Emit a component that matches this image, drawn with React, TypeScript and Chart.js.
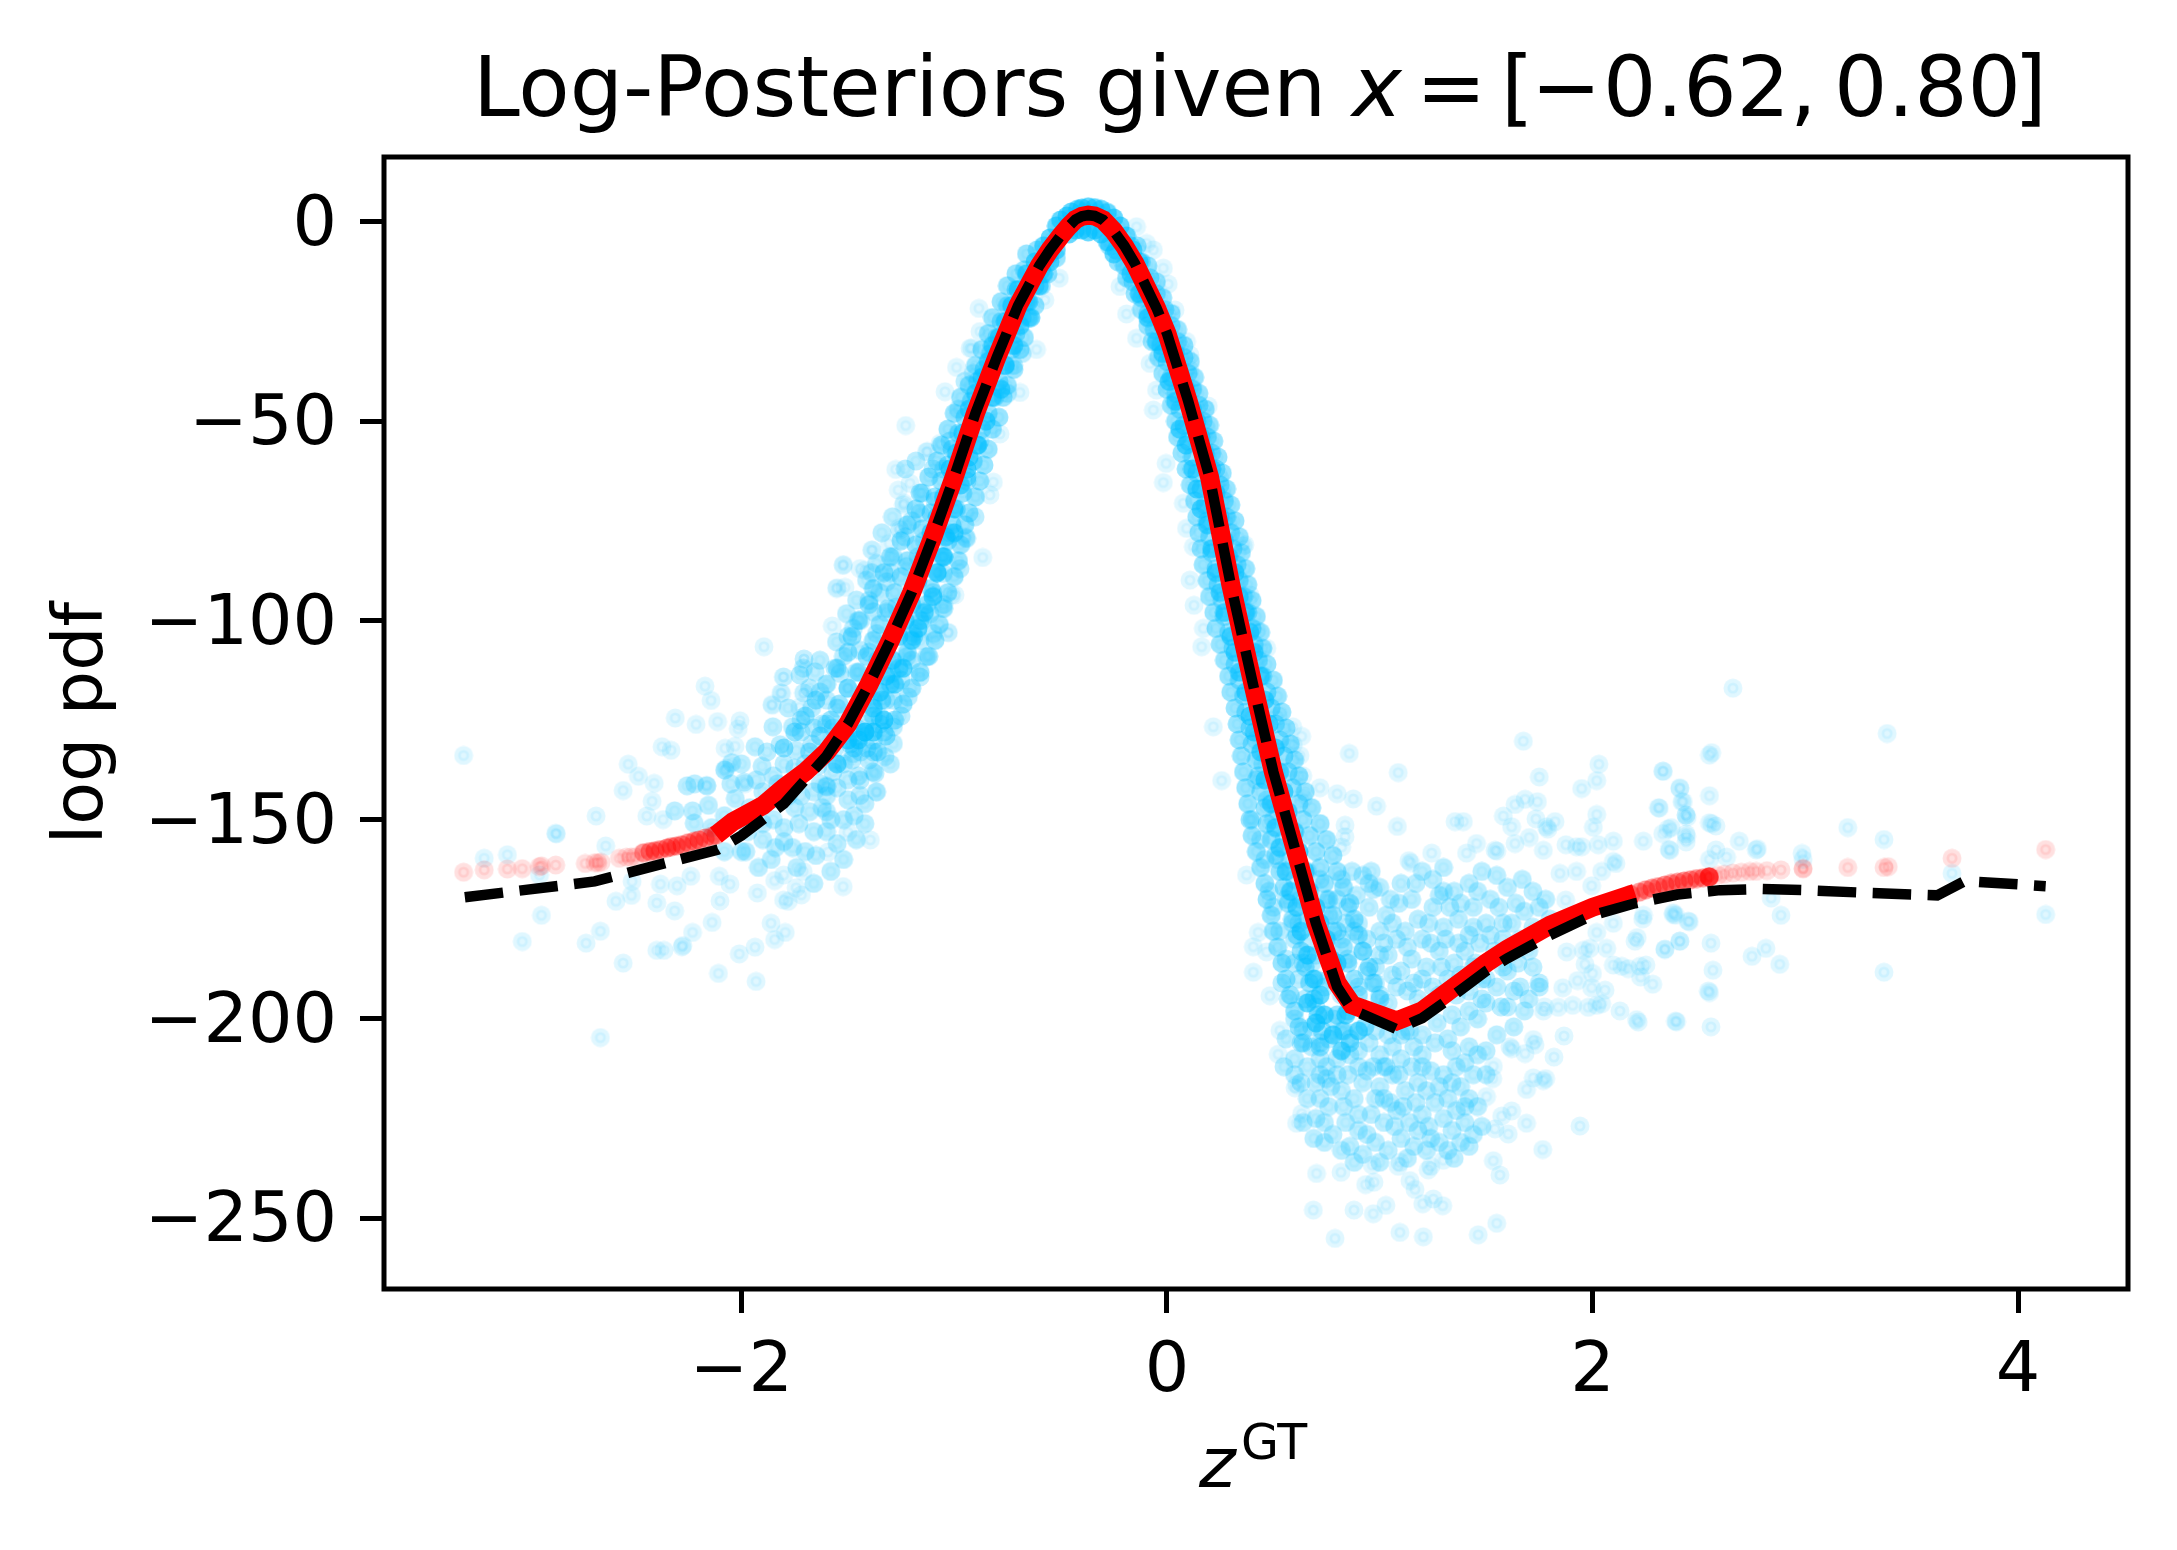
import React, { useEffect, useRef } from "react";
import { Chart, registerables } from "chart.js";

Chart.register(...registerables);

const xTicks = [-2, 0, 2, 4];
const yTicks = [-250, -200, -150, -100, -50, 0];

const meanCurve = [
  [-3.3,-169.5],[-2.69,-165.5],[-2.11,-157.5],[-2.0,-154],[-1.9,-150],[-1.8,-146],[-1.7,-140],[-1.6,-134],[-1.5,-126],[-1.4,-116],[-1.3,-105],[-1.2,-93],[-1.1,-79],[-1.0,-64],[-0.9,-48],[-0.8,-34],[-0.7,-21],[-0.6,-11],[-0.55,-7],[-0.5,-3.5],[-0.46,-1],[-0.43,0.6],[-0.4,1.4],[-0.37,1.7],[-0.34,1.5],[-0.3,0.5],[-0.25,-2.3],[-0.2,-6],[-0.15,-10.5],[-0.1,-16],[-0.05,-21.5],[0,-28],[0.1,-45],[0.2,-64],[0.3,-91],[0.4,-115],[0.5,-138],[0.6,-157],[0.7,-176],[0.8,-192],[0.87,-197.7],[1.08,-202.6],[1.2,-199.8],[1.3,-196],[1.4,-192],[1.5,-188],[1.6,-184.8],[1.8,-179],[2.0,-174],[2.2,-171],[2.4,-168.8],[2.6,-167.7],[2.8,-167.4],[3.0,-167.7],[3.3,-168.4],[3.62,-169],[3.75,-165.4],[4.13,-166.7],
];

const posteriorCurve = [
  [-2.12,-153.9],[-2.04,-150.5],[-1.9,-146.5],[-1.8,-142],[-1.7,-138],[-1.6,-133],[-1.5,-126],[-1.4,-116],[-1.3,-105],[-1.2,-93],[-1.1,-79],[-1.0,-64],[-0.9,-48],[-0.8,-34],[-0.7,-21],[-0.6,-11],[-0.55,-7],[-0.5,-3.5],[-0.46,-1],[-0.43,0.6],[-0.4,1.4],[-0.37,1.7],[-0.34,1.5],[-0.3,0.5],[-0.25,-2.3],[-0.2,-6],[-0.15,-10.5],[-0.1,-16],[-0.05,-21.5],[0,-28],[0.1,-45],[0.2,-64],[0.3,-91],[0.4,-115],[0.5,-138],[0.6,-157],[0.7,-176],[0.8,-191],[0.87,-196.5],[1.08,-200.5],[1.2,-198],[1.3,-194],[1.4,-190],[1.5,-186],[1.6,-182.5],[1.8,-176.5],[2.0,-172],[2.2,-168.5],
];

const posteriorTail = [
  [-3.306,-163.2],[-3.209,-162.6],[-3.1,-162.4],[-3.03,-162.3],[-2.95,-161.8],[-2.94,-161.6],[-2.873,-161.4],[-2.734,-161],[-2.69,-160.8],[-2.675,-160.8],[-2.66,-160.7],[-2.574,-159.7],[-2.541,-159.4],[-2.52,-159.4],[-2.499,-159.3],
  [3.37,-162],[3.39,-161.8],[3.2,-162],[3.69,-159.7],[4.13,-157.5],[2.99,-162.4],[2.99,-162.2],[2.886,-162.6],[2.82,-162.8],[2.77,-163],[2.74,-163],[2.7,-163.2],[2.66,-163.4],[2.62,-163.7],[2.59,-164],
];

const posteriorTailDense = [
  [-2.46,-158.3],[-2.43,-158],[-2.406,-157.8],[-2.38,-157.5],[-2.35,-157.1],[-2.33,-156.8],[-2.306,-156.6],[-2.28,-156.3],[-2.25,-155.8],[-2.222,-155.4],[-2.2,-155.1],[-2.17,-154.6],[-2.14,-154.2],[-2.121,-153.9],
  [2.18,-168.8],[2.22,-168.2],[2.25,-167.6],[2.28,-167.2],[2.31,-166.8],[2.34,-166.4],[2.37,-166],[2.4,-165.7],[2.43,-165.4],[2.46,-165.1],[2.49,-164.8],[2.52,-164.6],[2.548,-164.4],[2.548,-164.4],[2.55,-164.3],
];

const blueSparse = [
  [-3.306,-133.9],[-3.209,-159.7],[-3.1,-158.8],[-2.873,-153.4],[-2.87,-153.6],[-2.683,-149.1],[-2.638,-156.6],[-2.949,-163.9],[-2.94,-174],[-3.03,-180.6],[-2.663,-178],[-2.73,-181],[-2.663,-204.7],[-2.556,-186],[-2.59,-170.5],[-2.517,-169],[-2.514,-165.5],[-2.556,-142.7],[-2.532,-136.1],[-2.484,-139.1],[-2.41,-140.9],[-2.42,-145.4],[-2.445,-149.1],[-2.368,-150],[-2.373,-131.7],[-2.331,-132.6],[-2.311,-124.5],[-2.213,-126.1],[-2.112,-125.4],[-2.007,-125.2],[-2.015,-127.2],[-2.171,-116.5],[-2.143,-120.1],[-1.894,-106.6],[-1.857,-121.1],[-1.815,-118.2],[-1.802,-114.2],[-1.706,-118.2],[-1.726,-121.8],[-1.706,-109.7],[-1.522,-86.2],[-1.55,-91.8],[-1.366,-143.1],[-1.394,-155.1],[-1.522,-166.8],[-1.5,-153.2],[-1.592,-158.1],[-1.718,-168.9],[-1.794,-178.3],[-1.861,-176],[-1.844,-180.1],[-1.936,-182],[-2.01,-183.7],[-1.931,-190.6],[-2.108,-188.6],[-2.23,-178.3],[-2.138,-175.8],[-2.28,-181.9],[-2.275,-181.6],[-2.398,-182.8],[-2.364,-182.8],[-2.314,-172.9],[-2.398,-170.9],[-2.381,-166.2],[-2.302,-166.6],[-2.238,-164.2],[-2.101,-170.4],[-2.104,-164.2],[-2.054,-166.2],[-1.925,-168.4],[-1.844,-165.3],[-1.802,-163.9],[-1.802,-170.2],[-1.78,-170.5],[-1.743,-167.1],[-1.71,-163],
  [1.675,-130.3],[2.03,-136.1],[2.02,-140.2],[1.949,-142.2],[1.75,-139.3],[1.087,-138.2],[0.857,-133.4],[0.719,-142],[0.8,-143.5],[0.876,-144.8],[0.985,-146.6],[1.083,-151.7],[1.354,-150.5],[1.393,-150.5],[2.333,-137.9],[2.411,-142.2],[2.314,-147.1],[2.427,-145.5],[2.439,-148.9],[2.445,-149.4],[2.356,-152.3],[2.02,-148.7],[2.004,-151.9],[2.239,-155.4],[2.364,-157.7],[2.442,-154.2],[1.636,-146.2],[1.683,-144.9],[1.741,-145.5],[1.581,-149.1],[1.62,-151.8],[1.734,-149.8],[1.784,-151.8],[1.79,-152.4],[1.824,-150.5],[1.636,-156],[1.703,-154.5],[1.769,-157.7],[1.455,-156],[1.408,-158.4],[1.542,-157.7],[1.55,-157.9],[1.244,-158.4],[1.137,-160.3],[1.145,-160.8],[1.875,-156.3],[1.925,-156.8],[1.949,-156.8],[2.027,-156.3],[2.098,-155.4],[2.098,-160.5],[2.11,-161],[1.996,-166.6],[1.925,-163],[1.847,-163.5],[2.043,-163],[1.874,-170.2],
  [2.129,-198],[2.207,-200.2],[2.215,-200.8],[2.395,-200.7],[1.866,-204.3],[1.819,-209.6],[1.769,-215.5],[1.78,-215],[1.69,-217.7],[1.722,-214.8],[1.941,-226.9],[1.766,-232.8],[1.69,-226.2],[1.62,-223.1],[1.573,-224.4],[1.542,-227.6],[1.604,-228.9],[1.534,-235.6],[1.565,-239.2],[1.55,-251.3],[1.463,-254.2],[1.205,-254.7],[1.095,-253.6],[0.79,-255.1],[0.688,-248],[0.879,-248],[0.97,-248.9],[1.029,-246.8],[1.202,-246.4],[1.252,-245.2],[1.296,-246.9],[1.166,-242.8],[1.142,-240.6],[0.934,-241.6],[0.973,-241],[0.703,-238.8],[0.818,-238.5],[0.965,-236.7],[1.087,-237],[1.095,-236],[1.228,-237.9],[1.24,-237],[1.299,-235.5],[0.602,-217.3],[0.61,-216.5],[0.633,-223.8],[0.609,-226.2],[0.523,-208.9],[0.531,-202.9],[0.484,-194.2],[0.406,-188.3],[0.406,-181.9],[0.429,-178.3],[0.468,-183.2],[0.374,-163.9],[0.257,-140.2],[0.218,-126.7],[0.523,-124],[0.591,-126.7],[0.633,-129.1],[0.594,-131.2],[0.625,-133.9],[0.638,-139],[0.641,-144.7],[0.837,-151.4],[0.837,-154.3],[0.821,-156.9],
  [2.067,-182.3],[1.879,-183.2],[1.957,-182.8],[1.988,-182.3],[2.2,-180.5],[2.21,-179.6],[2.34,-182.6],[2.411,-180.5],[2.02,-178.3],[2.098,-176],[2.236,-174.9],[2.24,-174],[2.38,-173.8],[2.455,-175.6],[1.965,-186.3],[2,-188.6],[2.098,-186.5],[2.137,-186.8],[2.168,-187.4],[2.223,-186.8],[2.251,-186.5],[2.226,-189.5],[2.283,-191.3],[1.93,-190.4],[1.86,-192.2],[1.996,-192.2],[2.059,-192.8],[1.907,-196.6],[1.839,-197.1],[1.98,-197.1],[2.02,-196.6],[2.043,-196.2],[1.769,-198],[1.775,-197],[1.722,-205.2],[1.73,-206.5],[1.683,-208.7],[1.612,-207],[1.62,-207.5],[1.534,-211.9],[1.531,-215],[1.502,-219.5],
  [2.985,-158.5],[2.99,-160],[3.2,-152],[3.37,-155],[3.385,-128.4],[3.37,-188.3],[3.69,-163.5],[4.13,-173.8],[2.886,-174],[2.84,-169.7],[2.88,-186.3],[2.815,-182.3],[2.75,-184.3],[2.66,-117],[2.557,-202],[2.545,-193],[2.55,-193.4],[2.39,-200.6],[2.566,-187.8],[2.557,-181],[2.41,-180.5],[2.34,-182.5],[2.45,-175.5],[2.38,-173.4],[2.39,-174],[2.55,-133.8],[2.56,-133.2],[2.33,-137.8],[2.41,-142],[2.31,-147],[2.42,-145.5],[2.44,-148.8],[2.55,-144],[2.55,-150.8],[2.56,-151],[2.58,-151.6],[2.69,-155.4],[2.77,-157.6],[2.775,-157.3],[2.37,-152],[2.33,-153.5],[2.44,-153.6],[2.44,-155.6],[2.36,-157.5],[2.58,-157.6],[2.63,-159.4],[2.55,-160],
  [-1.521,-86],[-1.553,-92],[-1.513,-91.7],[-1.443,-87],[-1.419,-87.4],[-1.385,-82.4],[-1.255,-77.3],[-1.239,-71],[-0.866,-84.2],[-1.028,-103],[-1.012,-93.6],[-1.573,-101.4],[-1.706,-109.7],[-1.803,-114.2],[-1.709,-118.2],[-1.811,-118.3],[-1.855,-121.3],[-2.077,-132.1],[-2.03,-131.6],[-2.077,-137.6],[-2.07,-137],[-2.164,-141.4],[-1.983,-141],[-1.228,-51.1],[-1.275,-62.1],[-1.043,-42.6],[-0.989,-36.5],[-0.918,-31.7],[-0.613,-32],[-0.691,-42.8],[-0.785,-53.2],[-0.816,-65.3],[-0.832,-68.5],[-0.945,-79.4],[-0.996,-93.6],[-1.208,-65.6],[-1.263,-67.3],[-1.236,-70.6],[-1.126,-57.6],[-1.067,-55.6],[-1.26,-76.9],[-1.388,-82.3],[-1.305,-80.7],[-0.884,-21.7],[-0.879,-27.5],[-0.926,-31.7],[-1.13,-57.7],[-0.506,-14.1],[-0.574,-19.6],[-0.946,-79],[-1.028,-103.1],
  [-0.221,-16.2],[-0.19,-23.1],[-0.143,-29.2],[-0.08,-35.5],[-0.049,-42.2],[-0.064,-47.2],[-0.004,-60.6],[-0.017,-65.4],[0.077,-70.6],[0.092,-76.9],[0.124,-81.5],[0.108,-89.9],[0.127,-96.2],[0.171,-102],[0.163,-106.6],[-0.143,-1.2],[-0.096,-5.4],[-0.064,-7],[-0.017,-11.6],[0.006,-15.6],[0.038,-22.1],[0.092,-30],[0.108,-33.4],[0.108,-37.2],[0.124,-41.8],[0.194,-46.2],[0.186,-51.8],[0.194,-59.7],[0.249,-64.4],[0.257,-68.1],[0.288,-75.2],[0.359,-81.3],[0.366,-81],[0.312,-85.7],[0.39,-93.6],[0.421,-102.4],[0.469,-107],
];

const blueDense = [
  [-2.255,-141.5],[-2.22,-141],[-2.163,-141.5],[-2.155,-146.4],[-2.23,-147.8],[-2.222,-150.9],[-2.314,-147.8],[-2.079,-137.5],[-2.046,-135.7],[-1.987,-140.6],[-2.029,-144.7],[-1.936,-131.7],[-1.903,-136.6],[-1.819,-131.2],[-1.743,-132.6],[-1.852,-126.7],[-1.76,-126.7],[-1.6,-141.5],[-1.64,-136.5],[-1.96,-147],[-1.9,-143],[-2.14,-152],[-2.08,-149],[-2.02,-150],[-1.85,-139],[-1.8,-136],[-1.75,-137],[-1.86,-145],[-1.97,-153],
  [-1.9,-155],[-1.85,-150],[-1.8,-152],[-1.8,-155.5],[-1.76,-157],[-1.73,-151],[-1.68,-148],[-1.62,-147],[-1.58,-150],[-1.55,-142],[-1.5,-145],[-1.45,-139],[-1.42,-146],[-1.48,-135],[-1.41,-132],[-1.35,-126],[-1.4,-135],[-1.46,-127],[-1.56,-132],[-1.52,-136],[-1.6,-148],[-1.66,-153],[-1.7,-158],[-1.65,-159],[-1.6,-153],[-1.55,-156],[-1.74,-162],[-1.86,-160],[-1.92,-162],[-1.98,-158],[-1.6,-144],[-1.63,-141],[-1.57,-138],[-1.44,-133],[-1.38,-138],[-1.42,-126],[-1.49,-131],
  [-1.709,-112],[-1.654,-112.9],[-1.631,-110],[-1.725,-113.7],[-1.537,-113.3],[-1.6,-120],[-1.521,-109],[-1.553,-105.4],[-1.474,-102],[-1.506,-98.3],[-1.38,-97.8],[-1.459,-94.9],[-1.318,-90.3],[-1.412,-89.9],[-1.365,-85.7],[-1.286,-84],[-1.224,-86.5],[-1.231,-79],[-1.161,-73.1],[-1.365,-103.3],[-1.271,-96.6],[-1.443,-107.5],[-1.44,-100],[-1.4,-95],[-1.35,-93],[-1.3,-88],[-1.32,-98],[-1.5,-104],[-1.56,-112],[-1.63,-118],[-1.67,-122],[-1.72,-125],[-1.6,-126],[-1.55,-122],[-1.5,-117],[-1.46,-113],[-1.4,-108],[-1.36,-110],
  [-0.942,-79.4],[-0.902,-74],[-0.973,-87],[-1.051,-88.2],[-1.114,-98.3],[-1.098,-103.3],[-1.13,-109.1],[-1.161,-114.2],[-1.216,-119.2],[-1.286,-120],[-1.294,-113.3],[-1.224,-109.1],[-1.192,-103.3],[-1.286,-130.9],[-1.325,-134.2],[-1.38,-130.1],[-1.451,-129.2],[-1.286,-126.7],[-1.349,-124.2],[-1.38,-120],[-1.474,-133.4],[-1.372,-138.4],[-1.443,-140.1],[-1.365,-143],[-1.443,-143.9],[-1.6,-141.8],[-1.15,-100],[-1.1,-93],[-1.05,-96],[-1.06,-84],[-1.02,-78],[-1.2,-110],[-1.16,-105],[-1.25,-115],[-1.25,-124],[-1.32,-120],
  [-1.388,-88],[-1.34,-78],[-1.29,-74],[-1.23,-62],[-1.18,-60],[-1.15,-68],[-1.2,-75],[-1.14,-80],[-1.17,-84],[-1.09,-70],[-1.1,-62],[-1.05,-62],[-1.02,-55],[-0.98,-47],[-0.95,-40],[-0.91,-38],[-0.88,-55],[-0.94,-65],[-0.88,-45],[-0.84,-40],[-0.72,-36],[-0.68,-33],[-0.75,-43],
  [-2.0,-136],[-2.05,-141],[-1.93,-140],[-1.88,-133],[-1.83,-141],[-1.78,-144],[-1.72,-128],[-1.67,-131],[-1.7,-136],[-1.66,-143],[-1.72,-144],[-1.9,-151],[-2.0,-158],[-2.08,-158],[-1.84,-157],[-1.75,-147],[-1.52,-150],[-1.47,-149],[-1.46,-155],[-1.42,-151],[-1.52,-160],[-1.58,-163],[-1.66,-166],[-1.62,-126],[-1.57,-127],[-1.66,-127],[-1.78,-122],[-1.68,-117],[-1.55,-129],[-1.3,-136],[-1.33,-128],[-1.38,-133],[-1.5,-140],
  [0.55,-155],[0.58,-160],[0.62,-158],[0.66,-163],[0.6,-165],[0.52,-160],[0.56,-170],[0.63,-170],[0.68,-172],[0.72,-165],[0.75,-170],[0.72,-178],[0.78,-178],[0.82,-165],[0.87,-163],[0.92,-164],[0.96,-163],[1.0,-167],[1.05,-170],[1.1,-166],[1.15,-170],[1.2,-163],[1.25,-165],[1.3,-162],[1.35,-168],[1.42,-166],[1.48,-163],[1.55,-164],[1.6,-167],[1.67,-165],[1.72,-168],[0.85,-172],[0.9,-176],[0.95,-172],[1.0,-178],[1.06,-176],[1.12,-178],[1.18,-175],[1.25,-172],[1.3,-177],[1.37,-175],[1.44,-172],[1.5,-176],[1.56,-172],[1.62,-176],[1.68,-173],[1.75,-172],[1.8,-175],[0.85,-185],[0.92,-183],[0.98,-187],[1.04,-184],[1.1,-188],[1.15,-185],[1.22,-187],[1.28,-183],[1.35,-186],[1.4,-183],[1.47,-181],[1.52,-179],[0.9,-192],[1.0,-194],[1.08,-192],[1.16,-191],[1.25,-192],[1.32,-190],[0.82,-180],[0.78,-186],[0.88,-178],[1.33,-172],[1.2,-180],[1.42,-179],[1.58,-180],[1.66,-180],
  [1.55,-192],[1.6,-188],[1.66,-192],[1.72,-187],[1.75,-191],[1.5,-196],[1.6,-197],[1.68,-198],[1.46,-200],[1.55,-204],[1.63,-202],[1.75,-192],
  [0.89,-169],[0.97,-167.5],[1.03,-174],[1.09,-171],[1.17,-166],[1.23,-176],[1.28,-169],[1.38,-171],[1.46,-168],[1.52,-170],[1.58,-176],[1.64,-171],[1.72,-177],[1.78,-170],[0.94,-180],[1.02,-181],[1.08,-180],[1.13,-182],[1.24,-181],[1.31,-180],[1.37,-181],[1.44,-177],[1.54,-183],[1.62,-182],[1.7,-183],[0.94,-188],[1.06,-189],[1.13,-193],[1.2,-190],[1.29,-187],[1.38,-189],[1.44,-187],[1.5,-190],[1.58,-187],[1.65,-186],[0.98,-191],[1.04,-196],[1.18,-195],[1.28,-194],[1.36,-194],[1.42,-193],[1.48,-195],[1.57,-197],[1.63,-193],[1.7,-195],
  [0.42,-130],[0.45,-136],[0.47,-145],[0.5,-150],[0.52,-148],[0.42,-140],[0.4,-150],[0.44,-155],[0.46,-160],[0.48,-168],[0.5,-172],[0.53,-178],[0.56,-185],[0.6,-180],[0.62,-190],[0.65,-195],[0.68,-186],[0.7,-197],[0.74,-192],[0.78,-200],[0.57,-195],[0.6,-200],[0.64,-203],[0.56,-205],[0.68,-202],[0.72,-206],[0.76,-205],[0.82,-203],[0.86,-205],[0.6,-210],[0.66,-212],[0.7,-216],[0.75,-212],[0.8,-210],[0.85,-214],[0.9,-208],[0.95,-206],[1.0,-209],[1.06,-207],[1.1,-210],[1.16,-207],[1.2,-209],[1.26,-206],[1.32,-205],[1.38,-202],[1.42,-207],[1.36,-212],[1.3,-214],[1.24,-213],[1.18,-216],[1.12,-218],[1.06,-214],[1.0,-217],[0.94,-213],[0.88,-220],[0.82,-218],[0.76,-222],[0.7,-225],[0.66,-220],[0.78,-229],[0.84,-226],[0.9,-228],[0.96,-224],[1.02,-226],[1.08,-223],[1.14,-226],[1.2,-224],[1.26,-221],[1.32,-220],[1.38,-217],[1.44,-214],[1.46,-222],[1.4,-226],[1.34,-228],[1.28,-231],[1.22,-233],[1.16,-232],[1.1,-230],[1.04,-233],[0.98,-231],[0.92,-234],[0.86,-232],[1.35,-235],[1.42,-232],
  [0.93,-198],[0.98,-203],[1.04,-204],[1.12,-203],[1.2,-204],[1.27,-201],[1.34,-199],[1.42,-198],[0.9,-212],[0.97,-212],[1.03,-212],[1.09,-214],[1.15,-212],[1.22,-218],[1.28,-217],[1.34,-216],[0.72,-214],[0.77,-217],[0.83,-222],[0.9,-224],[0.98,-220],[1.05,-221],[1.11,-222],[1.17,-221],[1.23,-227],[1.3,-225],[1.36,-223],[1.42,-220],[0.74,-231],[0.82,-233],[0.88,-236],[0.94,-229],[1.0,-236],[1.07,-227],[1.13,-235],[1.18,-228],[1.24,-230],[1.32,-233],[1.4,-222],
  [0.63,-216],[0.68,-207],[0.6,-214],[0.55,-212],[0.72,-220],[0.64,-226],[0.74,-226],[0.69,-230],[0.8,-214],[0.86,-209],[1.14,-203],[1.02,-220],[1.4,-211],[1.46,-209],[1.5,-208],[1.5,-214],[1.48,-227],[1.44,-229],[1.38,-231],
  [0.62,-176],[0.66,-181],[0.7,-184],[0.76,-174],[0.8,-170],[0.84,-176],[0.76,-190],[0.82,-194],[0.66,-175],[0.59,-176],[0.54,-191],[0.6,-186],[0.64,-186],[0.7,-190],
  [0.75,-215],[0.92,-216],[1.02,-212],[0.72,-210],[0.63,-206],[1.34,-208],[1.48,-190],[1.45,-186],[0.95,-166],[1.0,-184],[1.3,-168],[1.2,-212],[1.1,-204],
];

const bandLeft = [
  [-0.66,-8],[-0.61,-7],[-0.55,-8],[-0.52,-9],[-0.71,-13],[-0.67,-12],[-0.59,-12],[-0.56,-13],[-0.75,-16],[-0.71,-17],[-0.62,-16],[-0.59,-16],[-0.78,-20],[-0.75,-21],[-0.66,-20],[-0.62,-21],[-0.82,-24],[-0.78,-25],[-0.68,-24],[-0.65,-24],[-0.84,-28],[-0.8,-29],[-0.71,-28],[-0.67,-29],[-0.87,-32],[-0.83,-33],[-0.73,-32],[-0.69,-32],[-0.9,-36],[-0.86,-37],[-0.76,-36],[-0.72,-37],[-0.93,-41],[-0.89,-40],[-0.79,-40],[-0.75,-41],[-0.97,-44],[-0.92,-45],[-0.81,-44],[-0.77,-44],[-1.0,-48],[-0.95,-49],[-0.84,-48],[-0.79,-49],[-1.03,-52],[-0.98,-53],[-0.87,-52],[-0.82,-52],[-1.06,-56],[-1.01,-57],[-0.89,-56],[-0.84,-57],[-1.08,-60],[-1.03,-61],[-0.91,-60],[-0.86,-61],[-1.12,-64],[-1.06,-65],[-0.94,-64],[-0.88,-65],[-1.16,-68],[-1.09,-69],[-0.96,-68],[-0.9,-69],[-1.18,-72],[-1.11,-73],[-0.99,-72],[-0.93,-73],[-1.22,-76],[-1.15,-77],[-1.01,-76],[-0.95,-76],[-1.25,-80],[-1.18,-81],[-1.03,-80],[-0.97,-81],[-1.3,-84],[-1.22,-85],[-1.05,-84],[-0.98,-85],[-1.33,-88],[-1.25,-89],[-1.08,-88],[-1.0,-89],[-1.38,-92],[-1.28,-93],[-1.11,-92],[-1.03,-93],[-1.4,-96],[-1.31,-97],[-1.13,-96],[-1.05,-97],[-1.45,-100],[-1.35,-101],[-1.16,-100],[-1.07,-101],[-1.48,-104],[-1.38,-105],[-1.19,-104],[-1.09,-105],[-1.5,-108],[-1.41,-109],[-1.22,-108],[-1.12,-109],[-1.55,-112],[-1.45,-113],[-1.26,-112],[-1.16,-113],[-1.6,-116],[-1.5,-117],[-1.3,-116],[-1.2,-117],[-1.65,-120],[-1.54,-121],[-1.34,-120],[-1.24,-121],[-1.7,-124],[-1.58,-125],[-1.38,-124],[-1.28,-125],[-1.75,-128],[-1.63,-129],[-1.42,-128],[-1.32,-129],[-1.8,-132],[-1.68,-133],[-1.47,-132],[-1.36,-133],
];

const bandRight = [
  [-0.27,-6],[-0.24,-7],[-0.17,-6],[-0.14,-6],[-0.23,-10],[-0.2,-11],[-0.12,-10],[-0.09,-11],[-0.19,-14],[-0.16,-15],[-0.08,-14],[-0.05,-15],[-0.15,-18],[-0.12,-19],[-0.05,-18],[-0.02,-19],[-0.12,-22],[-0.09,-23],[-0.01,-22],[0.02,-23],[-0.09,-26],[-0.06,-27],[0.02,-26],[0.05,-27],[-0.07,-30],[-0.03,-31],[0.05,-30],[0.08,-31],[-0.04,-34],[0.0,-35],[0.08,-34],[0.11,-35],[-0.02,-38],[0.02,-39],[0.1,-38],[0.13,-39],[0.0,-42],[0.04,-43],[0.12,-42],[0.15,-43],[0.02,-46],[0.06,-47],[0.15,-46],[0.18,-47],[0.04,-50],[0.08,-51],[0.17,-50],[0.2,-51],[0.05,-54],[0.1,-55],[0.19,-54],[0.22,-55],[0.07,-58],[0.12,-59],[0.21,-58],[0.24,-59],[0.09,-62],[0.14,-63],[0.23,-62],[0.26,-63],[0.11,-66],[0.16,-67],[0.25,-66],[0.28,-67],[0.13,-70],[0.18,-71],[0.27,-70],[0.3,-71],[0.14,-74],[0.19,-75],[0.28,-74],[0.32,-75],[0.15,-78],[0.2,-79],[0.3,-78],[0.34,-79],[0.16,-82],[0.21,-83],[0.31,-82],[0.35,-83],[0.17,-86],[0.23,-87],[0.33,-86],[0.37,-87],[0.19,-90],[0.24,-91],[0.34,-90],[0.38,-91],[0.2,-94],[0.26,-95],[0.36,-94],[0.4,-95],[0.22,-98],[0.27,-99],[0.38,-98],[0.42,-99],[0.23,-102],[0.29,-103],[0.4,-102],[0.44,-103],[0.25,-106],[0.31,-107],[0.41,-106],[0.45,-107],[0.27,-110],[0.32,-111],[0.43,-110],[0.47,-111],[0.29,-114],[0.34,-115],[0.45,-114],[0.5,-115],[0.3,-118],[0.36,-119],[0.47,-118],[0.52,-119],[0.32,-122],[0.37,-123],[0.49,-122],[0.54,-123],[0.33,-126],[0.39,-127],[0.51,-126],[0.56,-127],[0.34,-130],[0.4,-131],[0.53,-130],[0.58,-131],[0.35,-134],[0.42,-135],[0.55,-134],[0.6,-135],[0.36,-138],[0.43,-139],[0.57,-138],[0.62,-139],[0.37,-142],[0.44,-143],[0.59,-142],[0.65,-143],[0.38,-146],[0.46,-147],[0.62,-146],[0.68,-147],[0.39,-150],[0.47,-151],[0.64,-150],[0.72,-151],[0.4,-154],[0.49,-155],[0.67,-154],[0.75,-155],[0.42,-158],[0.51,-159],[0.7,-158],[0.78,-159],[0.44,-162],[0.53,-163],[0.72,-162],[0.8,-163],[0.46,-166],[0.55,-167],[0.74,-166],[0.83,-167],[0.47,-170],[0.57,-171],[0.76,-170],[0.86,-171],[0.49,-174],[0.59,-175],[0.78,-174],[0.88,-175],[0.5,-178],[0.61,-179],[0.8,-178],[0.9,-179],[0.52,-182],[0.63,-183],[0.83,-182],[0.92,-183],[0.54,-186],[0.65,-187],[0.85,-186],[0.95,-187],[0.56,-190],[0.67,-191],[0.88,-190],[0.97,-191],[0.58,-194],[0.69,-195],[0.9,-194],[1.0,-195],[0.6,-198],[0.71,-199],[0.8,-199],[0.85,-198],[0.62,-202],[0.73,-203],[0.83,-203],[0.93,-202],[0.64,-206],[0.72,-207],[0.86,-206],
];

const blueCore = [
  [-0.62,-10],[-0.58,-6],[-0.55,-4],[-0.52,-1],[-0.5,0.5],[-0.47,1.5],[-0.45,2.5],[-0.42,3.2],[-0.4,3.5],[-0.37,3.8],[-0.34,3.6],[-0.31,3.2],[-0.28,2.4],[-0.25,1],[-0.22,-1],[-0.19,-3.5],[-0.16,-7],[-0.13,-10],[-0.46,-3],[-0.43,-2],[-0.4,-2],[-0.37,-2.5],[-0.34,-2],[-0.31,-3],[-0.28,-5],[-0.25,-8],[-0.52,-7],[-0.55,-10],[-0.58,-13],[-0.6,-16],[-0.65,-20],[-0.66,-13],[-0.7,-17],[-0.73,-21],[-0.76,-25],[-0.69,-26],[-0.64,-24],[-0.79,-29],[-0.82,-31],[-0.84,-35],[-0.76,-36],[-0.72,-31],[-0.87,-39],[-0.9,-43],[-0.93,-47],[-0.82,-44],[-0.78,-42],[-0.85,-50],[-0.96,-53],[-0.99,-58],[-0.93,-59],[-0.89,-56],[-1.02,-62],[-1.05,-69],[-1.08,-74],[-0.97,-66],[-0.94,-62],[-1.0,-72],[-1.11,-78],[-1.14,-84],[-1.04,-79],[-1.0,-78],[-1.17,-90],[-1.2,-96],[-1.08,-88],[-1.05,-84],[-1.23,-100],[-1.26,-104],[-1.14,-98],[-1.1,-94],[-1.29,-110],[-1.32,-114],[-1.2,-105],[-1.17,-102],[-1.35,-118],[-1.24,-112],[-1.28,-116],[-1.38,-122],[-1.33,-125],[-1.42,-128],[-1.45,-130],[-1.38,-128],[-1.5,-130],[-1.55,-136],
  [-0.12,-14],[-0.09,-18],[-0.05,-22],[-0.02,-26],[0.01,-30],[0.04,-33],[-0.17,-13],[-0.13,-18],[-0.09,-24],[-0.05,-30],[-0.02,-33],[0.06,-38],[0.09,-42],[0.01,-40],[0.04,-45],[0.12,-47],[0.14,-50],[0.06,-52],[0.09,-56],[0.16,-54],[0.18,-58],[0.12,-62],[0.14,-67],[0.21,-62],[0.23,-68],[0.16,-72],[0.19,-76],[0.25,-74],[0.27,-80],[0.21,-82],[0.23,-88],[0.29,-84],[0.32,-88],[0.25,-93],[0.27,-98],[0.34,-94],[0.37,-98],[0.3,-104],[0.32,-108],[0.39,-103],[0.41,-108],[0.34,-113],[0.37,-118],[0.44,-114],[0.46,-120],[0.39,-124],[0.41,-128],[0.48,-126],[0.51,-132],[0.44,-133],[0.46,-140],[0.53,-138],[0.55,-143],[0.49,-146],[0.51,-152],[0.57,-148],[0.6,-153],[0.53,-157],[0.56,-163],[0.62,-158],[0.65,-163],[0.58,-168],[0.61,-172],[0.67,-168],[0.7,-172],[0.63,-178],[0.66,-184],[0.72,-176],[0.75,-180],[0.69,-190],[0.72,-194],[0.77,-185],[0.8,-186],[0.66,-196],[0.74,-199],[0.78,-204],[0.7,-201],[0.84,-199],[0.9,-203],[0.82,-208],
];

const makeSprite = (rgb: string, disc: number, ring: number) => {
  const c = document.createElement("canvas");
  c.width = 20;
  c.height = 20;
  const g = c.getContext("2d")!;
  g.fillStyle = `rgba(${rgb},${disc})`;
  g.beginPath();
  g.arc(10, 10, 9.5, 0, Math.PI * 2);
  g.fill();
  g.fillStyle = `rgba(${rgb},${ring})`;
  g.beginPath();
  g.arc(10, 10, 5.6, 0, Math.PI * 2);
  g.arc(10, 10, 2.7, 0, Math.PI * 2, true);
  g.fill();
  return c;
};

const toPoints = (rows: number[][]) => rows.map(([x, y]) => ({ x, y }));

const textPlugin = {
  id: "figureText",
  afterDraw(chart: any) {
    const { ctx, chartArea: a } = chart;
    ctx.save();
    ctx.strokeStyle = "#000";
    ctx.lineWidth = 5;
    ctx.strokeRect(a.left, a.top, a.right - a.left, a.bottom - a.top);
    ctx.fillStyle = "#000";
    ctx.textBaseline = "alphabetic";
    ctx.textAlign = "left";
    const put = (s: string, x: number, y: number, size: number, italic = false) => {
      ctx.font = `${italic ? "italic " : ""}${size}px "DejaVu Sans"`;
      ctx.fillText(s, x, y);
    };
    put("Log-Posteriors given", 473, 116, 84);
    put("x", 1352, 116, 84, true);
    put("=", 1416, 116, 84);
    put("[", 1501, 116, 84);
    put("−", 1531, 116, 84);
    put("0.62,", 1603, 116, 84);
    put("0.80", 1834, 116, 84);
    put("]", 2014, 116, 84);
    put("z", 1199, 1487, 70, true);
    put("GT", 1241, 1459, 49);
    ctx.restore();
  },
};

export default function App() {
  const ref = useRef<HTMLCanvasElement>(null);
  useEffect(() => {
    document.body.style.margin = "0";
    const sparse = makeSprite("0,191,255", 0.12, 0.09);
    const dense = makeSprite("0,191,255", 0.26, 0.08);
    const band = makeSprite("0,191,255", 0.4, 0.08);
    const core = makeSprite("0,191,255", 0.6, 0.1);
    const red = makeSprite("255,0,0", 0.12, 0.09);
    const redDense = makeSprite("255,0,0", 0.4, 0.1);
    const points = (data: number[][], style: HTMLCanvasElement, label: string, order: number) => ({
      label,
      data: toPoints(data),
      order,
      showLine: false,
      pointStyle: style,
      pointRadius: 9,
      pointHoverRadius: 9,
    });
    const chart = new Chart(ref.current!, {
      type: "scatter",
      data: {
        datasets: [
          {
            label: "mean",
            data: toPoints(meanCurve),
            order: 1,
            showLine: true,
            borderColor: "#000",
            borderWidth: 10.5,
            borderDash: [38.5, 16.5],
            borderCapStyle: "butt",
            pointRadius: 0,
            tension: 0,
          },
          {
            label: "posterior",
            data: toPoints(posteriorCurve),
            order: 2,
            showLine: true,
            borderColor: "#ff0000",
            borderWidth: 19,
            pointRadius: 0,
            tension: 0,
          },
          points(posteriorTailDense, redDense, "posterior tail dense", 3),
          points(posteriorTail, red, "posterior tail", 4),
          points(blueCore, core, "samples core", 5),
          points(bandLeft, band, "samples band left", 6),
          points(bandRight, band, "samples band right", 7),
          points(blueDense, dense, "samples dense", 8),
          points(blueSparse, sparse, "samples", 9),
        ] as any,
      },
      options: {
        responsive: false,
        animation: false,
        devicePixelRatio: 1,
        layout: { padding: { top: 157, right: 49, left: 0, bottom: 0 } },
        plugins: { legend: { display: false }, title: { display: false }, tooltip: { enabled: false } },
        scales: {
          x: {
            type: "linear",
            min: -3.68,
            max: 4.517,
            afterFit: (s: any) => { s.height = 261; },
            afterBuildTicks: (s: any) => { s.ticks = xTicks.map((value) => ({ value })); },
            grid: { drawOnChartArea: false, color: "#000", tickLength: 24, tickWidth: 5, tickColor: "#000" },
            border: { display: false },
            ticks: {
              color: "#000",
              font: { family: "DejaVu Sans", size: 70 },
              padding: 18,
              maxRotation: 0,
              autoSkip: false,
              callback: (v: any) => String(v).replace("-", "−"),
            },
          },
          y: {
            type: "linear",
            min: -267.8,
            max: 16.3,
            afterFit: (s: any) => { s.width = 384; },
            afterBuildTicks: (s: any) => { s.ticks = yTicks.map((value) => ({ value })); },
            grid: { drawOnChartArea: false, color: "#000", tickLength: 24, tickWidth: 5, tickColor: "#000" },
            border: { display: false },
            title: {
              display: true,
              text: "log pdf",
              color: "#000",
              font: { family: "DejaVu Sans", size: 70, lineHeight: 1.2 },
              padding: { top: 42, bottom: 0 },
            },
            ticks: {
              color: "#000",
              font: { family: "DejaVu Sans", size: 70 },
              padding: 23,
              labelOffset: 5,
              autoSkip: false,
              callback: (v: any) => String(v).replace("-", "−"),
            },
          },
        },
      },
      plugins: [textPlugin],
    } as any);
    return () => chart.destroy();
  }, []);
  return <canvas ref={ref} width={2177} height={1550} style={{ display: "block" }} />;
}
